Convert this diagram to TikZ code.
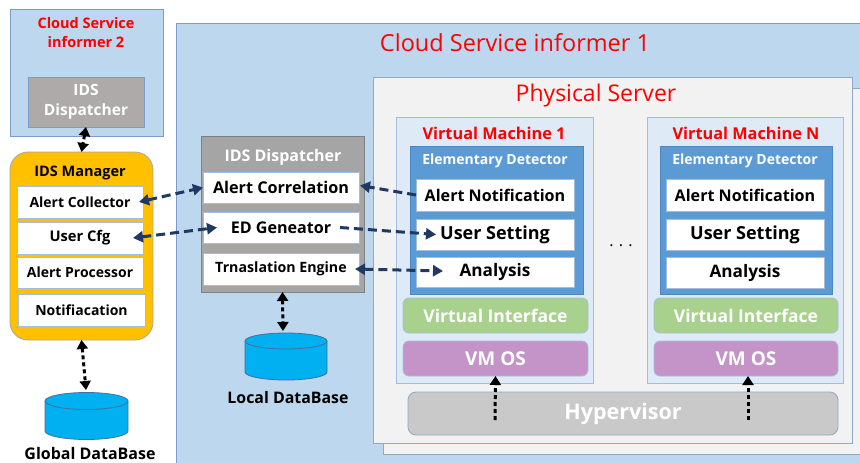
\documentclass[tikz,border=0pt]{standalone}
\usepackage{fontspec}
\setmainfont{Open Sans}
\usetikzlibrary{arrows.meta}
\definecolor{bgblue}{HTML}{BDD7EE}
\definecolor{bdblue}{HTML}{7B9CC6}
\definecolor{csgrey}{HTML}{AEAAAA}
\definecolor{dispgrey}{HTML}{A5A5A5}
\definecolor{psfill}{HTML}{F2F2F2}
\definecolor{psbd}{HTML}{8FAAC8}
\definecolor{vmfill}{HTML}{DEEBF7}
\definecolor{vmbd}{HTML}{A3BEDC}
\definecolor{edblue}{HTML}{5B9BD5}
\definecolor{edbd}{HTML}{4A86C0}
\definecolor{vigreen}{HTML}{A9D18E}
\definecolor{ospurple}{HTML}{C494C8}
\definecolor{hypgrey}{HTML}{C9C9C9}
\definecolor{mgrorange}{HTML}{FFC000}
\definecolor{dbblue}{HTML}{00B0F0}
\definecolor{dbbd}{HTML}{41719C}
\definecolor{navy}{HTML}{203864}
\definecolor{redt}{HTML}{FF0000}
\tikzset{
  every node/.style={inner sep=0pt, outer sep=0pt},
  container/.style={draw=bdblue, line width=0.8pt, fill=bgblue},
  whitebox/.style={draw=vmbd, line width=0.8pt, fill=white, font=\bfseries\fontsize{14}{16}\selectfont},
  graybox/.style={draw=#1!80!black, line width=0.8pt, fill=#1, text=white, font=\bfseries\fontsize{14}{16}\selectfont, align=center},
  redtitle/.style={text=redt, align=center},
  dotarrow/.style={line width=3pt, dash pattern=on 4pt off 3pt, {Triangle[length=9pt,width=11pt]}-{Triangle[length=9pt,width=11pt]}},
  dotarrowup/.style={line width=3pt, dash pattern=on 4pt off 3pt, -{Triangle[length=9pt,width=11pt]}},
  navyarrow/.style={navy, line width=3pt, dash pattern=on 9pt off 5pt},
  layer/.style={draw=vmbd, line width=0.8pt, rounded corners=6pt, text=white, font=\bfseries\fontsize{17.5}{19}\selectfont},
}
\begin{document}
\begin{tikzpicture}[x=1pt,y=-1pt]
\useasboundingbox (0,0) rectangle (860,463);
\clip (0,0) rectangle (860,463);
\fill[white] (0,0) rectangle (860,463);
% Cloud Service informer 2
\node[container, minimum width=153pt, minimum height=127pt] (csi2) at (86.5,72.5) {};
\node[redtitle, font=\bfseries\fontsize{14.5}{19}\selectfont] (csi2t) at (86,33) {Cloud Service\\informer 2};
\node[graybox=csgrey, draw=bdblue, minimum width=116pt, minimum height=50pt, font=\bfseries\fontsize{15.5}{20}\selectfont] (disp2) at (86,102) {IDS\\Dispatcher};
% IDS manager
\node[draw=gray!70, line width=0.8pt, fill=mgrorange, rounded corners=18pt, minimum width=143pt, minimum height=188pt] (mgr) at (81.5,246) {};
\node[font=\bfseries\fontsize{14.5}{17}\selectfont] (mgrt) at (80,173) {IDS Manager};
\node[whitebox, minimum width=126pt, minimum height=32pt] (coll) at (80,202) {Alert Collector};
\node[whitebox, minimum width=126pt, minimum height=32pt, font=\bfseries\fontsize{14.7}{16}\selectfont] (ucfg) at (80,238) {User Cfg};
\node[whitebox, minimum width=126pt, minimum height=31pt] (aproc) at (80,272.5) {Alert Processor};
\node[whitebox, minimum width=127pt, minimum height=32pt] (notif) at (81.5,310) {Notifiacation};
% Global DB
\filldraw[draw=dbbd, line width=0.8pt, fill=dbblue] (45,401) -- (45,431) arc[start angle=180, end angle=360, x radius=41.5pt, y radius=8.5pt] -- (128,401) arc[start angle=0, end angle=180, x radius=41.5pt, y radius=8.5pt] -- cycle;
\draw[draw=dbbd, line width=0.8pt] (45,401) arc[start angle=180, end angle=360, x radius=41.5pt, y radius=8.5pt];
\coordinate (gdb) at (86,390);
\node[font=\bfseries\fontsize{16}{18}\selectfont] (gdbt) at (90,453) {Global DataBase};
% Cloud Service informer 1
\draw[container] (176,23) rectangle (880,480);
\node[redtitle, font=\fontsize{23.5}{26}\selectfont] (csi1t) at (515,43) {Cloud Service informer 1};
\draw[draw=psbd, line width=0.8pt, fill=psfill] (383,88) rectangle (880,454);
\node[draw=psbd, line width=0.8pt, fill=psfill, minimum width=479pt, minimum height=366pt] (ps) at (612.5,260) {};
\node[redtitle, font=\fontsize{23}{26}\selectfont] (pst) at (596,96) {Physical Server};
% Local IDS dispatcher
\node[fill=dispgrey, draw=gray, line width=0.8pt, minimum width=163pt, minimum height=156pt] (disp1) at (282.5,214) {};
\node[text=white, font=\bfseries\fontsize{16}{18}\selectfont] (disp1t) at (283,157) {IDS Dispatcher};
\node[whitebox, minimum width=156pt, minimum height=31pt, font=\bfseries\fontsize{16.2}{18}\selectfont] (acorr) at (281,187.5) {Alert Correlation};
\node[whitebox, minimum width=156pt, minimum height=31pt, font=\bfseries\fontsize{16.1}{18}\selectfont] (edgen) at (281,227.5) {ED Geneator};
\node[whitebox, minimum width=156pt, minimum height=32pt, font=\bfseries\fontsize{14.2}{16}\selectfont] (trans) at (281,269) {Trnaslation Engine};
% Local DB
\filldraw[draw=dbbd, line width=0.8pt, fill=dbblue] (245,341) -- (245,372) arc[start angle=180, end angle=360, x radius=41pt, y radius=8pt] -- (327,341) arc[start angle=0, end angle=180, x radius=41pt, y radius=8pt] -- cycle;
\draw[draw=dbbd, line width=0.8pt] (245,341) arc[start angle=180, end angle=360, x radius=41pt, y radius=8pt];
\coordinate (ldb) at (283,331);
\node[font=\bfseries\fontsize{15.9}{18}\selectfont] (ldbt) at (288,398) {Local DataBase};
% VM 1
\node[draw=vmbd, line width=0.8pt, fill=vmfill, minimum width=197pt, minimum height=266pt] (vm1) at (494.5,250) {};
\node[redtitle, font=\bfseries\fontsize{16.3}{18}\selectfont] (vm1t) at (494,133) {Virtual Machine 1};
\node[draw=edbd, line width=0.8pt, fill=edblue, minimum width=173pt, minimum height=148pt] (ed1) at (496.5,220) {};
\node[text=white, font=\bfseries\fontsize{14}{16}\selectfont] (ed1t) at (495,161) {Elementary Detector};
\node[whitebox, minimum width=158pt, minimum height=32pt, font=\bfseries\fontsize{16.1}{18}\selectfont] (an1) at (495,195) {Alert Notification};
\node[whitebox, minimum width=158pt, minimum height=31pt, font=\bfseries\fontsize{18}{20}\selectfont] (us1) at (495,234.5) {User Setting};
\node[whitebox, minimum width=158pt, minimum height=30pt, font=\bfseries\fontsize{17.2}{19}\selectfont] (a1) at (495,272) {Analysis};
\node[layer, fill=vigreen, minimum width=185pt, minimum height=35pt] (vi1) at (495.5,315.5) {Virtual Interface};
\node[layer, fill=ospurple, minimum width=185pt, minimum height=35pt, font=\bfseries\fontsize{19}{21}\selectfont] (os1) at (495.5,358.5) {VM OS};
% VM N
\node[draw=vmbd, line width=0.8pt, fill=vmfill, minimum width=196pt, minimum height=266pt] (vmN) at (745,250) {};
\node[redtitle, font=\bfseries\fontsize{16.3}{18}\selectfont] (vmNt) at (746,133) {Virtual Machine N};
\node[draw=edbd, line width=0.8pt, fill=edblue, minimum width=172pt, minimum height=148pt] (edN) at (746,220) {};
\node[text=white, font=\bfseries\fontsize{14}{16}\selectfont] (edNt) at (745,161) {Elementary Detector};
\node[whitebox, minimum width=158pt, minimum height=32pt, font=\bfseries\fontsize{16.1}{18}\selectfont] (anN) at (745,195) {Alert Notification};
\node[whitebox, minimum width=158pt, minimum height=31pt, font=\bfseries\fontsize{18}{20}\selectfont] (usN) at (745,234.5) {User Setting};
\node[whitebox, minimum width=158pt, minimum height=31pt, font=\bfseries\fontsize{17.2}{19}\selectfont] (aN) at (745,273) {Analysis};
\node[layer, fill=vigreen, minimum width=184pt, minimum height=35pt] (viN) at (746,315.5) {Virtual Interface};
\node[layer, fill=ospurple, minimum width=184pt, minimum height=35pt, font=\bfseries\fontsize{19}{21}\selectfont] (osN) at (746,358.5) {VM OS};
% Hypervisor
\node[draw=psbd, line width=0.8pt, fill=hypgrey, rounded corners=8pt, minimum width=430pt, minimum height=43pt, text=white, font=\bfseries\fontsize{21.5}{24}\selectfont] (hyp) at (623,413.5) {Hypervisor};
% dots
\node[font=\fontsize{16}{18}\selectfont] (dots) at (621,246) {.\,\,.\,\,.};
% dotted arrows
\draw[dotarrow] (disp2.south) -- (mgr.north);
\draw[dotarrow] (mgr.south) -- (gdb);
\draw[dotarrow] (disp1.south) -- (ldb);
\draw[dotarrowup] ([xshift=-0.5pt,yshift=-28pt]hyp.north west -| os1.south) -- (os1.south);
\draw[dotarrowup] ([xshift=2pt,yshift=-28pt]hyp.north west -| osN.south) -- ([xshift=2pt]osN.south);
% navy dashed arrows
\draw[navyarrow, {Triangle[length=10pt,width=11pt]}-{Triangle[length=10pt,width=11pt]}] ([xshift=-4pt]coll.east) -- (acorr.west);
\draw[navyarrow, {Triangle[length=10pt,width=11pt]}-{Triangle[length=10pt,width=11pt]}] ([xshift=-10pt]ucfg.east) -- ([xshift=14pt]edgen.west);
\draw[navyarrow, -{Triangle[length=10pt,width=11pt]}] (an1.west) -- ([xshift=1pt,yshift=2pt]acorr.east);
\draw[navyarrow, -{Triangle[length=10pt,width=11pt]}] ([xshift=-19pt]edgen.east) -- ([xshift=20pt]us1.west);
\draw[navyarrow, {Triangle[length=10pt,width=11pt]}-{Triangle[length=10pt,width=11pt]}] ([xshift=-4pt]trans.east) -- ([xshift=27pt,yshift=1pt]a1.west);
\end{tikzpicture}
\end{document}
